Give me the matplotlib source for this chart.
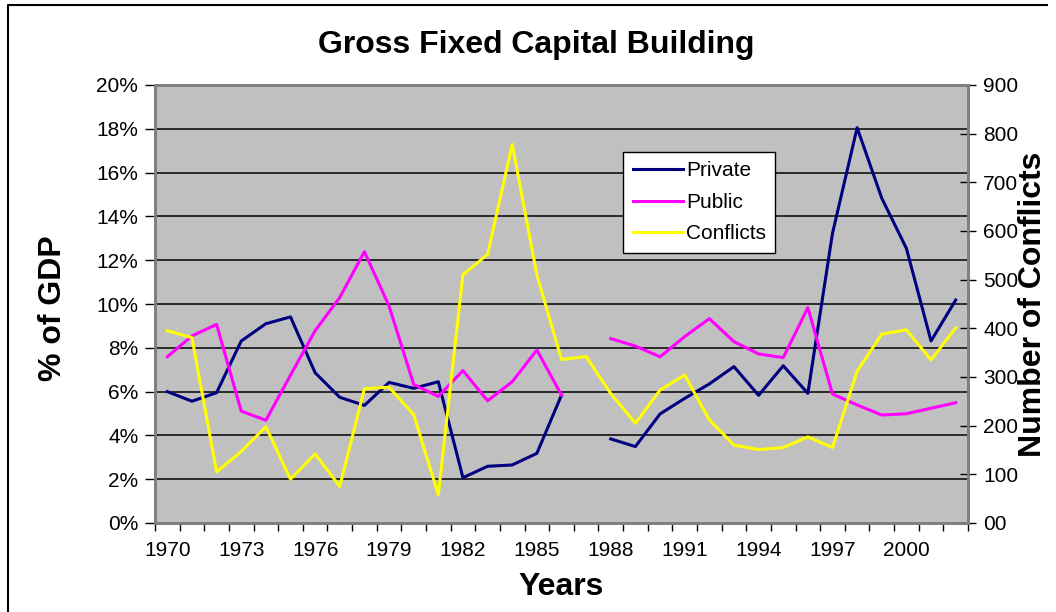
import numpy as np
import matplotlib
matplotlib.use("Agg")
from matplotlib import pyplot as plt
from matplotlib.ticker import FuncFormatter, MultipleLocator
from matplotlib.lines import Line2D

plt.rcParams['font.family'] = ['Liberation Sans', 'DejaVu Sans']

years = list(range(1970, 2003))

# % of GDP (nan = no data)
private = [6.0, 5.56, 5.95, 8.31, 9.1, 9.41, 6.86, 5.74, 5.37, 6.42, 6.15, 6.45,
           2.07, 2.59, 2.65, 3.18, 5.84, np.nan, 3.84, 3.49, 4.98, 5.69, 6.35,
           7.14, 5.83, 7.18, 5.92, 13.23, 18.05, 14.83, 12.54, 8.31, 10.18]
public = [7.59, 8.54, 9.07, 5.11, 4.69, 6.75, 8.78, 10.3, 12.39, 9.91, 6.33, 5.78,
          6.96, 5.58, 6.45, 7.9, 5.84, np.nan, 8.42, 8.08, 7.59, 8.51, 9.33,
          8.28, 7.72, 7.55, 9.83, 5.89, 5.39, 4.93, 4.99, 5.24, 5.49]
# number of conflicts
conflicts = [395, 381, 105, 147, 198, 90, 142, 75, 276, 279, 223, 58,
             510, 552, 778, 510, 336, 342, 266, 205, 273, 304, 212,
             160, 151, 155, 177, 155, 312, 388, 397, 335, 401]

pct_ticks = list(range(0, 21, 2))
count_ticks = list(range(0, 901, 100))
year_labels = list(range(1970, 2001, 3))

fig = plt.figure(figsize=(10.56, 6.12), dpi=100)
ax = fig.add_axes([155 / 1056, 89 / 612, 813 / 1056, 438 / 612])
ax.set_facecolor('#C0C0C0')

ax.plot(years, private, color='#000080', lw=2.2, zorder=3)
ax.plot(years, public, color='#FF00FF', lw=2.2, zorder=3)

ax.set_ylim(0, 20)
ax.set_yticks(pct_ticks)
ax.yaxis.set_major_formatter(FuncFormatter(lambda v, p: '%d%%' % v))
ax.grid(axis='y', color='#111111', lw=1.2, zorder=1)
ax.set_axisbelow(True)

ax.set_xlim(1969.5, 2002.5)
ax.set_xticks(year_labels)
ax.xaxis.set_minor_locator(MultipleLocator(1, offset=0.5))
ax.tick_params(axis='x', which='major', length=0, pad=13, labelsize=15)
ax.tick_params(axis='x', which='minor', length=6, width=1, direction='out', color='#000000')
ax.tick_params(axis='y', length=7, width=1, direction='out', pad=5, labelsize=15)

for s in ax.spines.values():
    s.set_color('#808080')
    s.set_linewidth(2)

ax2 = ax.twinx()
ax2.plot(years, conflicts, color='#FFFF00', lw=2.2, zorder=3)
ax2.set_ylim(0, 900)
ax2.set_yticks(count_ticks)
ax2.yaxis.set_major_formatter(FuncFormatter(lambda v, p: '00' if v == 0 else '%d' % v))
ax2.tick_params(axis='y', length=12, width=1, direction='inout', pad=5, labelsize=15)
for s in ax2.spines.values():
    s.set_color('#808080')
    s.set_linewidth(2)

handles = [Line2D([], [], color='#000080', lw=2.2),
           Line2D([], [], color='#FF00FF', lw=2.2),
           Line2D([], [], color='#FFFF00', lw=2.2)]
leg = ax2.legend(handles, ['Private', 'Public', 'Conflicts'], loc='upper left',
                 bbox_to_anchor=(0.576, 0.847), fontsize=15, frameon=True,
                 fancybox=False, framealpha=1, edgecolor='#000000',
                 handlelength=2.4, handletextpad=0.15, borderpad=0.45,
                 labelspacing=0.6, borderaxespad=0)
leg.get_frame().set_linewidth(1)

fig.text(536 / 1056, 1 - 45 / 612, 'Gross Fixed Capital Building', fontsize=23,
         fontweight='bold', ha='center', va='center')
fig.text(53 / 1056, 1 - 308 / 612, '% of GDP', fontsize=23, fontweight='bold',
         rotation=90, ha='center', va='center')
fig.text(1033 / 1056, 1 - 304 / 612, 'Number of Conflicts', fontsize=23,
         fontweight='bold', rotation=90, ha='center', va='center')
fig.text(561 / 1056, 1 - 587 / 612, 'Years', fontsize=23, fontweight='bold',
         ha='center', va='center')

# outer frame (top and left edges)
fig.add_artist(Line2D([8 / 1056, 8 / 1056, 1047 / 1056], [0, 1 - 5 / 612, 1 - 5 / 612],
                      transform=fig.transFigure, color='#000000', lw=1.5))

fig.savefig('out.png', dpi=100)
